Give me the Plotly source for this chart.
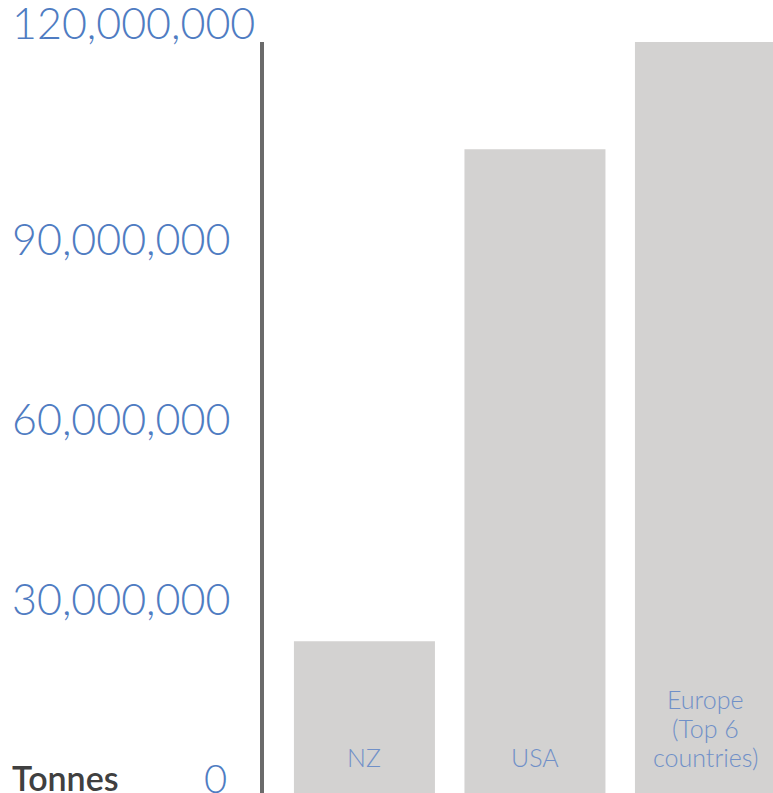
import plotly.graph_objects as go

categories = ["NZ", "USA", "Europe<br>(Top 6<br>countries)"]
values = [25.3e6, 107.3e6, 125.2e6]
tick_values = [0, 30e6, 60e6, 90e6, 120e6]
tick_labels = ["0", "30,000,000", "60,000,000", "90,000,000", "120,000,000"]

W, H = 773, 793
L, T = 264, 42
pw = W - L
ph = H - T
ymax = 125.2e6

fig = go.Figure()
fig.add_trace(go.Bar(
    x=list(range(len(categories))), y=values,
    width=0.827, marker=dict(color="#d3d2d1", line=dict(width=0)),
    hoverinfo="skip",
))

ann = []
for i, c in enumerate(categories):
    lines = c.split("<br>")
    n = len(lines)
    for k, ln in enumerate(lines):
        ann.append(dict(x=i, y=0, xref="x", yref="y", text=ln, showarrow=False,
                        xanchor="center", yanchor="middle", yshift=36 + (n - 1 - k) * 29,
                        font=dict(family="Lato", size=25, weight=300, color="#7090c8")))

def px_to_paper_x(px):
    return (px - L) / pw

for v, t in zip(tick_values, tick_labels):
    if v == 0:
        ann.append(dict(x=px_to_paper_x(229), y=v, xref="paper", yref="y", text=t,
                        showarrow=False, xanchor="right", yanchor="middle", yshift=15,
                        font=dict(family="Lato", size=40, weight=300, color="#4f7cc2")))
    else:
        shift = 15 if v < 120e6 else 51
        ann.append(dict(x=px_to_paper_x(10), y=v, xref="paper", yref="y", text=t,
                        showarrow=False, xanchor="left", yanchor="middle", yshift=shift,
                        font=dict(family="Lato", size=43, weight=300, color="#4f7cc2")))

ann.append(dict(x=px_to_paper_x(10), y=0, xref="paper", yref="y", text="Tonnes",
                showarrow=False, xanchor="left", yanchor="middle", yshift=16,
                font=dict(family="Lato", size=34, weight=600, color="#404040")))

fig.update_layout(
    width=W, height=H,
    margin=dict(l=L, r=0, t=T, b=0, pad=0),
    paper_bgcolor="white", plot_bgcolor="white",
    showlegend=False,
    xaxis=dict(range=[-0.589, 2.396], showticklabels=False, showgrid=False,
               zeroline=False, showline=False, fixedrange=True),
    yaxis=dict(range=[0, ymax], showticklabels=False, showgrid=False, zeroline=False,
               showline=True, linecolor="#6b6b6b", linewidth=4, ticks="", fixedrange=True),
    annotations=ann,
)

fig.write_html("out.html", config={"displayModeBar": False},
               post_script="document.body.style.margin='0';document.body.style.overflow='hidden';")
